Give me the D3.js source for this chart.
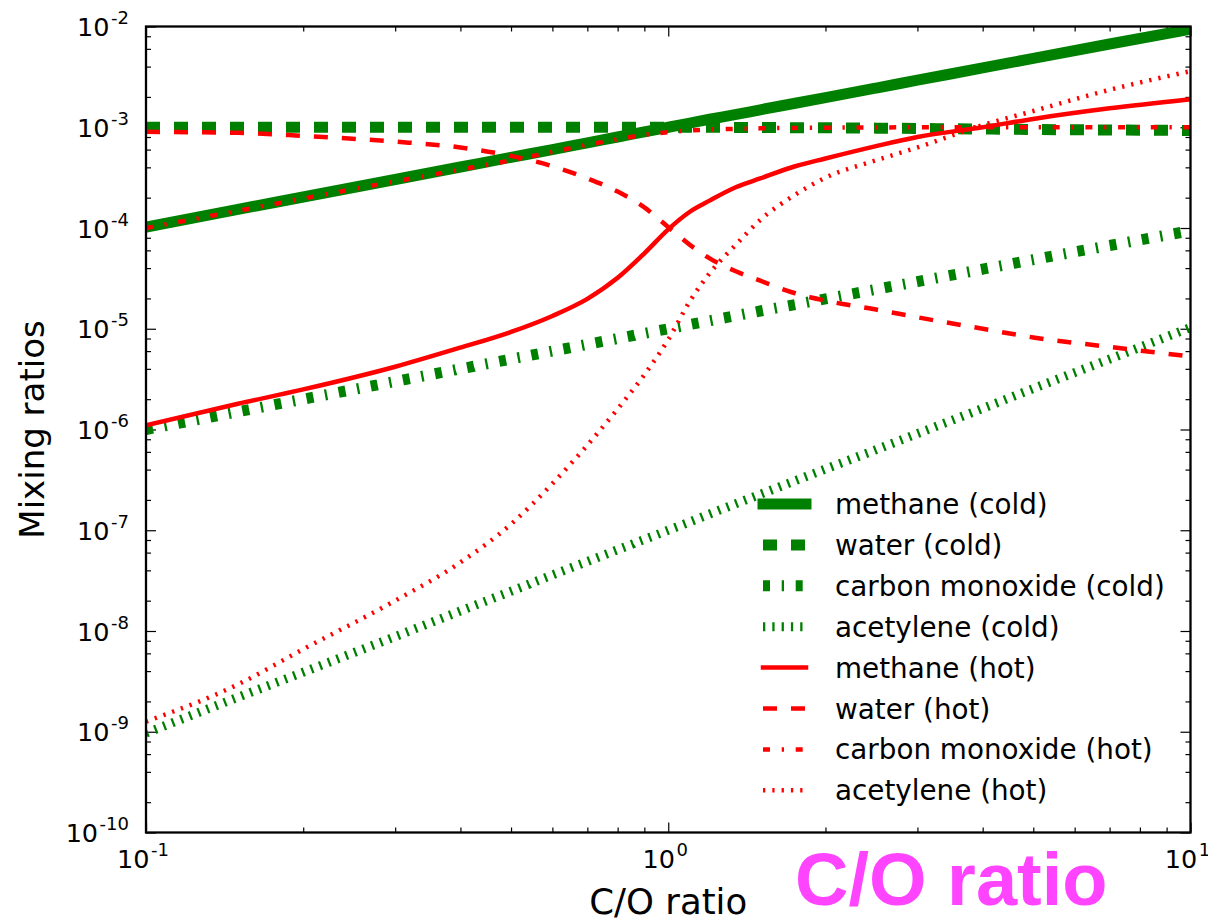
<!DOCTYPE html>
<html>
<head>
<meta charset="utf-8">
<script src="https://cdn.jsdelivr.net/npm/d3@7"></script>
<style>
  body { margin: 0; background: #fff; }
  text { font-family: "DejaVu Sans", sans-serif; }
</style>
</head>
<body>
<div id="chart"></div>
<script>
// C/O ratio grid and mixing ratios
const coRatio = [0.1, 0.15, 0.2, 0.3, 0.4, 0.5, 0.6, 0.7, 0.8, 0.9, 1.0, 1.1, 1.2, 1.35, 1.5, 1.75, 2, 2.5, 3, 4, 5, 7, 10];

const methaneCold = [1.02e-4, 1.53e-4, 2.03e-4, 3.03e-4, 4.03e-4, 5.03e-4, 6.0e-4, 7.0e-4, 8.0e-4, 9.0e-4, 1.0e-3, 1.1e-3, 1.2e-3, 1.34e-3, 1.49e-3, 1.73e-3, 1.97e-3, 2.45e-3, 2.93e-3, 3.88e-3, 4.83e-3, 6.7e-3, 9.4e-3];
const waterCold = [1.0e-3, 1.0e-3, 1.0e-3, 1.0e-3, 1.0e-3, 1.0e-3, 1.0e-3, 1.0e-3, 1.0e-3, 1.0e-3, 1.0e-3, 9.99e-4, 9.98e-4, 9.96e-4, 9.94e-4, 9.9e-4, 9.87e-4, 9.8e-4, 9.72e-4, 9.6e-4, 9.5e-4, 9.4e-4, 9.3e-4];
const coCold = [1.0e-6, 1.5e-6, 2.0e-6, 3.0e-6, 4.0e-6, 5.0e-6, 6.0e-6, 7.0e-6, 8.0e-6, 9.0e-6, 1.0e-5, 1.1e-5, 1.2e-5, 1.35e-5, 1.5e-5, 1.74e-5, 1.98e-5, 2.46e-5, 2.94e-5, 3.9e-5, 4.85e-5, 6.7e-5, 9.4e-5];
const acetyleneCold = [0.97e-9, 2.2e-9, 3.9e-9, 8.8e-9, 1.58e-8, 2.48e-8, 3.6e-8, 4.9e-8, 6.4e-8, 8.1e-8, 1.0e-7, 1.21e-7, 1.45e-7, 1.84e-7, 2.27e-7, 3.1e-7, 4.05e-7, 6.3e-7, 9.1e-7, 1.62e-6, 2.55e-6, 5.0e-6, 1.03e-5];

const methaneHot = [1.1e-6, 1.8e-6, 2.5e-6, 4.2e-6, 6.5e-6, 9.3e-6, 1.34e-5, 1.98e-5, 3.2e-5, 5.6e-5, 9.7e-5, 1.45e-4, 1.87e-4, 2.55e-4, 3.1e-4, 4.1e-4, 4.9e-4, 6.5e-4, 8.0e-4, 1.0e-3, 1.21e-3, 1.54e-3, 1.9e-3];
const waterHot = [9.0e-4, 8.8e-4, 8.2e-4, 7.2e-4, 6.3e-4, 5.2e-4, 4.1e-4, 3.1e-4, 2.3e-4, 1.6e-4, 1.02e-4, 6.8e-5, 5.0e-5, 3.7e-5, 3.0e-5, 2.25e-5, 1.9e-5, 1.55e-5, 1.3e-5, 1.0e-5, 8.2e-6, 6.6e-6, 5.3e-6];
const coHot = [1.0e-4, 1.48e-4, 1.96e-4, 2.9e-4, 3.8e-4, 4.7e-4, 5.7e-4, 6.7e-4, 7.6e-4, 8.4e-4, 8.95e-4, 9.3e-4, 9.5e-4, 9.65e-4, 9.75e-4, 9.85e-4, 9.9e-4, 9.95e-4, 1.0e-3, 1.0e-3, 1.0e-3, 1.0e-3, 1.0e-3];
const acetyleneHot = [1.26e-9, 2.95e-9, 6.6e-9, 2.0e-8, 4.8e-8, 1.15e-7, 2.9e-7, 7.0e-7, 1.6e-6, 3.5e-6, 7.8e-6, 1.88e-5, 3.55e-5, 6.9e-5, 1.2e-4, 2.14e-4, 3.16e-4, 4.7e-4, 6.3e-4, 1.05e-3, 1.45e-3, 2.35e-3, 3.6e-3];

const seriesNames = ["methane (cold)", "water (cold)", "carbon monoxide (cold)", "acetylene (cold)",
  "methane (hot)", "water (hot)", "carbon monoxide (hot)", "acetylene (hot)"];
const seriesValues = [methaneCold, waterCold, coCold, acetyleneCold, methaneHot, waterHot, coHot, acetyleneHot];

const xTickExps = [-1, 0, 1];
const yTickExps = [-10, -9, -8, -7, -6, -5, -4, -3, -2];

// line styles (matplotlib-like)
const green = "#008000", red = "#ff0000";
const coldWidth = 11, hotWidth = 4.5;
const dashes = { solid: null, dashed: "14,14", dashdot: "7,11.7,2.3,11.7", dotted: "2.3,7" };
const styles = [
  { color: green, width: coldWidth, dash: dashes.solid },
  { color: green, width: coldWidth, dash: dashes.dashed },
  { color: green, width: coldWidth, dash: dashes.dashdot },
  { color: green, width: 9, dash: dashes.dotted },
  { color: red, width: hotWidth, dash: dashes.solid },
  { color: red, width: hotWidth, dash: dashes.dashed },
  { color: red, width: hotWidth, dash: dashes.dashdot },
  { color: red, width: hotWidth, dash: dashes.dotted }
];

let W = 1208, H = 923;
let margin = { top: 26.5, right: 17.5, bottom: 90.5, left: 146 },
  width = W - margin.left - margin.right,
  height = H - margin.top - margin.bottom;

let svg = d3.select("#chart").append("svg")
  .attr("width", W)
  .attr("height", H)
  .append("g")
  .attr("transform", "translate(" + margin.left + "," + margin.top + ")");

let x = d3.scaleLog().domain([0.1, 10]).range([0, width]);
let y = d3.scaleLog().domain([1e-10, 1e-2]).range([height, 0]);

svg.append("clipPath").attr("id", "plot-clip")
  .append("rect").attr("width", width).attr("height", height);

// minor tick positions: 2..9 per decade on x, 2,4,6,8 on y (many decades)
let xMinor = [], yMinor = [];
d3.range(-1, 1).forEach(e => d3.range(2, 10).forEach(m => xMinor.push(m * Math.pow(10, e))));
d3.range(-10, -2).forEach(e => [2, 4, 6, 8].forEach(m => yMinor.push(m * Math.pow(10, e))));
let xMajor = xTickExps.map(e => Math.pow(10, e));
let yMajor = yTickExps.map(e => Math.pow(10, e));

function tickAxis(axisFn, scale, values, size, transform) {
  let g = svg.append("g")
    .attr("transform", transform || null)
    .call(axisFn(scale).tickValues(values).tickSize(-size).tickSizeOuter(0).tickFormat(""));
  g.select(".domain").remove();
  g.selectAll(".tick line").attr("stroke", "#000").attr("stroke-width", 1.2);
}

tickAxis(d3.axisLeft, y, yMajor, 10);
tickAxis(d3.axisLeft, y, yMinor, 5);
tickAxis(d3.axisRight, y, yMajor, 10, "translate(" + width + ",0)");
tickAxis(d3.axisRight, y, yMinor, 5, "translate(" + width + ",0)");
tickAxis(d3.axisBottom, x, xMajor, 10, "translate(0," + height + ")");
tickAxis(d3.axisBottom, x, xMinor, 5, "translate(0," + height + ")");
tickAxis(d3.axisTop, x, xMajor, 10);
tickAxis(d3.axisTop, x, xMinor, 5);

// the curves
let line = d3.line()
  .x(d => x(d[0]))
  .y(d => y(d[1]))
  .curve(d3.curveMonotoneX);

svg.append("g").attr("clip-path", "url(#plot-clip)")
  .selectAll("path")
  .data(seriesValues)
  .enter()
  .append("path")
  .attr("d", vals => line(coRatio.map((c, i) => [c, vals[i]])))
  .attr("fill", "none")
  .attr("stroke", (d, i) => styles[i].color)
  .attr("stroke-width", (d, i) => styles[i].width)
  .attr("stroke-dasharray", (d, i) => styles[i].dash)
  .attr("stroke-linecap", (d, i) => styles[i].dash ? "butt" : "square");

// frame
svg.append("rect")
  .attr("width", width)
  .attr("height", height)
  .attr("fill", "none")
  .attr("stroke", "#000")
  .attr("stroke-width", 2.3);

// tick labels as 10^n
function powerLabel(sel) {
  sel.append("tspan").attr("font-size", 25.5).text("10");
  sel.append("tspan").attr("font-size", 18).attr("dx", 1.5).attr("dy", -12).text(e => e);
}

svg.selectAll(".ylab")
  .data(yTickExps)
  .enter()
  .append("text")
  .attr("class", "ylab")
  .attr("x", -17)
  .attr("y", e => y(Math.pow(10, e)) + 9.5)
  .attr("text-anchor", "end")
  .call(powerLabel);

svg.selectAll(".xlab")
  .data(xTickExps)
  .enter()
  .append("text")
  .attr("class", "xlab")
  .attr("x", e => x(Math.pow(10, e)) - 3)
  .attr("y", height + 35.5)
  .attr("text-anchor", "middle")
  .call(powerLabel);

// axis titles
svg.append("text")
  .attr("transform", "translate(" + (43.5 - margin.left) + "," + (height / 2) + ") rotate(-90)")
  .attr("text-anchor", "middle")
  .style("font-size", "34px")
  .text("Mixing ratios");

svg.append("text")
  .attr("x", width / 2)
  .attr("y", height + 81)
  .attr("text-anchor", "middle")
  .style("font-size", "35.5px")
  .text("C/O ratio");

svg.append("text")
  .attr("x", 795 - margin.left)
  .attr("y", 905 - margin.top)
  .style("font-family", "'Liberation Sans', Arial, sans-serif")
  .style("font-weight", "bold")
  .style("font-size", "74px")
  .attr("fill", "#ff44ff")
  .text("C/O ratio");

// legend (no frame)
let legend = svg.append("g")
  .attr("transform", "translate(" + (763 - margin.left) + "," + (504 - margin.top) + ")");

let item = legend.selectAll(".item")
  .data(seriesNames)
  .enter()
  .append("g")
  .attr("class", "item")
  .attr("transform", (d, i) => "translate(0," + (i * 40.9) + ")");

item.append("line")
  .attr("x1", 0)
  .attr("x2", 43)
  .attr("stroke", (d, i) => styles[i].color)
  .attr("stroke-width", (d, i) => styles[i].width)
  .attr("stroke-dasharray", (d, i) => styles[i].dash)
  .attr("stroke-linecap", (d, i) => styles[i].dash ? "butt" : "square");

item.append("text")
  .attr("x", 72)
  .attr("y", 10)
  .style("font-size", "27.8px")
  .text(d => d);
</script>
</body>
</html>
